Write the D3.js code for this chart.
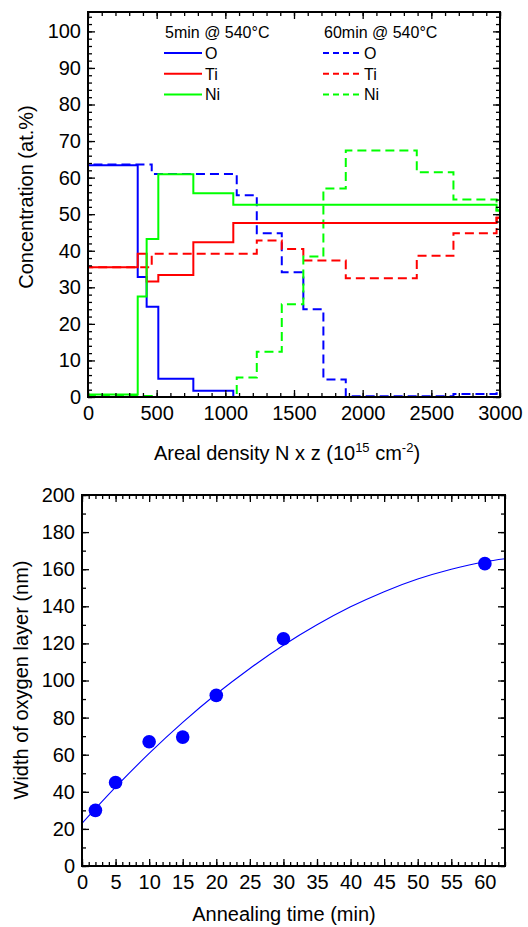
<!DOCTYPE html>
<html>
<head>
<meta charset="utf-8">
<script src="https://cdn.jsdelivr.net/npm/d3@7"></script>
<style>
  body { margin: 0; background: #fff; }
  svg { font-family: "Liberation Sans", Arial, sans-serif; }
</style>
</head>
<body>
<svg id="chart" width="528" height="927"></svg>
<script>
// --- top panel: depth profiles (layer start depth, concentration in each layer)
var depth5 = [0, 362, 427, 512, 767, 1058, 2975];
var O5  = [63.4, 32.8, 24.7, 5.0, 1.7, 0.0, 0.0];
var Ti5 = [35.5, 39.2, 31.6, 33.4, 42.3, 47.6, 49.0];
var Ni5 = [0.7, 27.5, 43.2, 60.9, 55.7, 52.6, 51.0];

var depth60 = [0, 464, 1083, 1229, 1411, 1568, 1714, 1877, 2394, 2661, 2975];
var O60  = [63.6, 61.0, 55.2, 44.8, 34.1, 24.0, 4.8, 0.2, 0.2, 0.8, 1.0];
var Ti60 = [35.5, 39.2, 39.2, 42.8, 40.5, 37.3, 37.3, 32.5, 38.6, 44.8, 49.0];
var Ni60 = [0.3, 0.0, 5.3, 12.4, 25.4, 38.4, 57.0, 67.4, 61.5, 54.0, 51.0];

var depthEnd = 3000;
var xTicksTop = [0, 500, 1000, 1500, 2000, 2500, 3000];
var yTicksTop = [0, 10, 20, 30, 40, 50, 60, 70, 80, 90, 100];

// --- bottom panel: width of oxygen layer vs annealing time
var times = [2, 5, 10, 15, 20, 30, 60];
var widths = [30, 45, 67, 69.5, 92, 122.5, 163];
var fitT = [0, 5, 10, 15, 20, 25, 30, 35, 40, 45, 50, 55, 60, 63];
var fitW = [23, 42.5, 60.7, 77.4, 92.7, 106.5, 119, 130, 139.7, 147.9, 154.7, 160, 164, 165.6];
var xTicksBot = [0, 5, 10, 15, 20, 25, 30, 35, 40, 45, 50, 55, 60];
var yTicksBot = [0, 20, 40, 60, 80, 100, 120, 140, 160, 180, 200];

var svg = d3.select("#chart");
var fontTick = 20;

function frame(g, x, y, xt, yt, xMinor, yMinor){
	var x0 = x.range()[0], x1 = x.range()[1];
	var y0 = y.range()[0], y1 = y.range()[1];

	g.append("g").attr("transform", "translate(0," + y0 + ")")
		.call(d3.axisBottom(x).tickValues(xt).tickSize(-7).tickPadding(9).tickFormat(d3.format("d")));
	g.append("g").attr("transform", "translate(0," + y0 + ")")
		.call(d3.axisBottom(x).tickValues(xMinor).tickSize(-4).tickFormat(""));
	g.append("g").attr("transform", "translate(0," + y1 + ")")
		.call(d3.axisTop(x).tickValues(xt).tickSize(-7).tickFormat(""));
	g.append("g").attr("transform", "translate(0," + y1 + ")")
		.call(d3.axisTop(x).tickValues(xMinor).tickSize(-4).tickFormat(""));

	g.append("g").attr("transform", "translate(" + x0 + ",0)")
		.call(d3.axisLeft(y).tickValues(yt).tickSize(-7).tickPadding(7).tickFormat(d3.format("d")));
	g.append("g").attr("transform", "translate(" + x0 + ",0)")
		.call(d3.axisLeft(y).tickValues(yMinor).tickSize(-4).tickFormat(""));
	g.append("g").attr("transform", "translate(" + x1 + ",0)")
		.call(d3.axisRight(y).tickValues(yt).tickSize(-7).tickFormat(""));
	g.append("g").attr("transform", "translate(" + x1 + ",0)")
		.call(d3.axisRight(y).tickValues(yMinor).tickSize(-4).tickFormat(""));

	g.selectAll(".domain").remove();
	g.selectAll(".tick line").attr("stroke", "#000").attr("stroke-width", 1.3);
	g.selectAll(".tick text").attr("font-size", fontTick).attr("fill", "#000")
		.attr("font-family", "Liberation Sans, Arial, sans-serif");

	g.append("rect")
		.attr("x", x0).attr("y", y1)
		.attr("width", x1 - x0).attr("height", y0 - y1)
		.attr("fill", "none").attr("stroke", "#000").attr("stroke-width", 2);
}

// ================= top panel =================
var xTop = d3.scaleLinear().domain([0, 3000]).range([88, 500]);
var yTop = d3.scaleLinear().domain([0, 105.3]).range([397, 12]);

var topG = svg.append("g");

function stepPoints(depths, vals){
	var pts = [[0, 0]];
	depths.forEach(function(d, i){ pts.push([d, vals[i]]); });
	pts.push([depthEnd, vals[vals.length - 1]]);
	return pts;
}

var stepLine = d3.line()
	.x(function(d){ return xTop(d[0]); })
	.y(function(d){ return yTop(d[1]); })
	.curve(d3.curveStepAfter);

var profiles = [
	{ d: depth60, v: O60, color: "#0000ff", dash: "9,5" },
	{ d: depth60, v: Ti60, color: "#ff0000", dash: "9,5" },
	{ d: depth60, v: Ni60, color: "#00ff00", dash: "9,5" },
	{ d: depth5, v: O5, color: "#0000ff", dash: null },
	{ d: depth5, v: Ti5, color: "#ff0000", dash: null },
	{ d: depth5, v: Ni5, color: "#00ff00", dash: null }
];

topG.selectAll("path.profile")
	.data(profiles)
	.enter()
	.append("path")
	.attr("class", "profile")
	.attr("d", function(p){ return stepLine(stepPoints(p.d, p.v)); })
	.attr("fill", "none")
	.attr("stroke", function(p){ return p.color; })
	.attr("stroke-width", 2)
	.attr("stroke-dasharray", function(p){ return p.dash; });

var xMinorTop = d3.range(0, 3001, 100);
var yMinorTop = d3.range(0, 105, 2);
frame(topG, xTop, yTop, xTicksTop, yTicksTop, xMinorTop, yMinorTop);

// legends
var legendNames = ["O", "Ti", "Ni"];
var legendColors = ["#0000ff", "#ff0000", "#00ff00"];
function legend(x, title, dash){
	var lg = topG.append("g");
	lg.append("text").attr("x", x + 1).attr("y", 38).attr("font-size", 16).text(title);
	legendNames.forEach(function(n, i){
		var yy = 53 + i * 20.7;
		lg.append("line").attr("x1", x).attr("x2", x + 38).attr("y1", yy).attr("y2", yy)
			.attr("stroke", legendColors[i]).attr("stroke-width", 2)
			.attr("stroke-dasharray", dash);
		lg.append("text").attr("x", x + 41).attr("y", yy + 6).attr("font-size", 16).text(n);
	});
}
legend(164, "5min @ 540\u00B0C", null);
legend(323, "60min @ 540\u00B0C", "6,4");

topG.append("text")
	.attr("transform", "translate(33,197) rotate(-90)")
	.attr("text-anchor", "middle")
	.attr("font-size", 20)
	.text("Concentration (at.%)");

var xt = topG.append("text")
	.attr("x", 287).attr("y", 460)
	.attr("text-anchor", "middle")
	.attr("font-size", 20);
xt.append("tspan").text("Areal density N x z (10");
xt.append("tspan").attr("dy", -8).attr("font-size", 13).text("15");
xt.append("tspan").attr("dy", 8).text(" cm");
xt.append("tspan").attr("dy", -8).attr("font-size", 13).text("-2");
xt.append("tspan").attr("dy", 8).text(")");

// ================= bottom panel =================
var xBot = d3.scaleLinear().domain([0, 63]).range([82, 505]);
var yBot = d3.scaleLinear().domain([0, 200]).range([866, 495]);

var botG = svg.append("g");

var fitLine = d3.line()
	.x(function(d, i){ return xBot(fitT[i]); })
	.y(function(d){ return yBot(d); })
	.curve(d3.curveMonotoneX);

botG.append("path")
	.attr("d", fitLine(fitW))
	.attr("fill", "none")
	.attr("stroke", "#0000ff")
	.attr("stroke-width", 1.1);

botG.selectAll("circle")
	.data(widths)
	.enter()
	.append("circle")
	.attr("cx", function(d, i){ return xBot(times[i]); })
	.attr("cy", function(d){ return yBot(d); })
	.attr("r", 6.8)
	.attr("fill", "#0000ff");

frame(botG, xBot, yBot, xTicksBot, yTicksBot, d3.range(0, 64, 1), d3.range(0, 201, 10));

botG.append("text")
	.attr("transform", "translate(28,680) rotate(-90)")
	.attr("text-anchor", "middle")
	.attr("font-size", 20)
	.text("Width of oxygen layer (nm)");

botG.append("text")
	.attr("x", 284).attr("y", 921)
	.attr("text-anchor", "middle")
	.attr("font-size", 20)
	.text("Annealing time (min)");
</script>
</body>
</html>
